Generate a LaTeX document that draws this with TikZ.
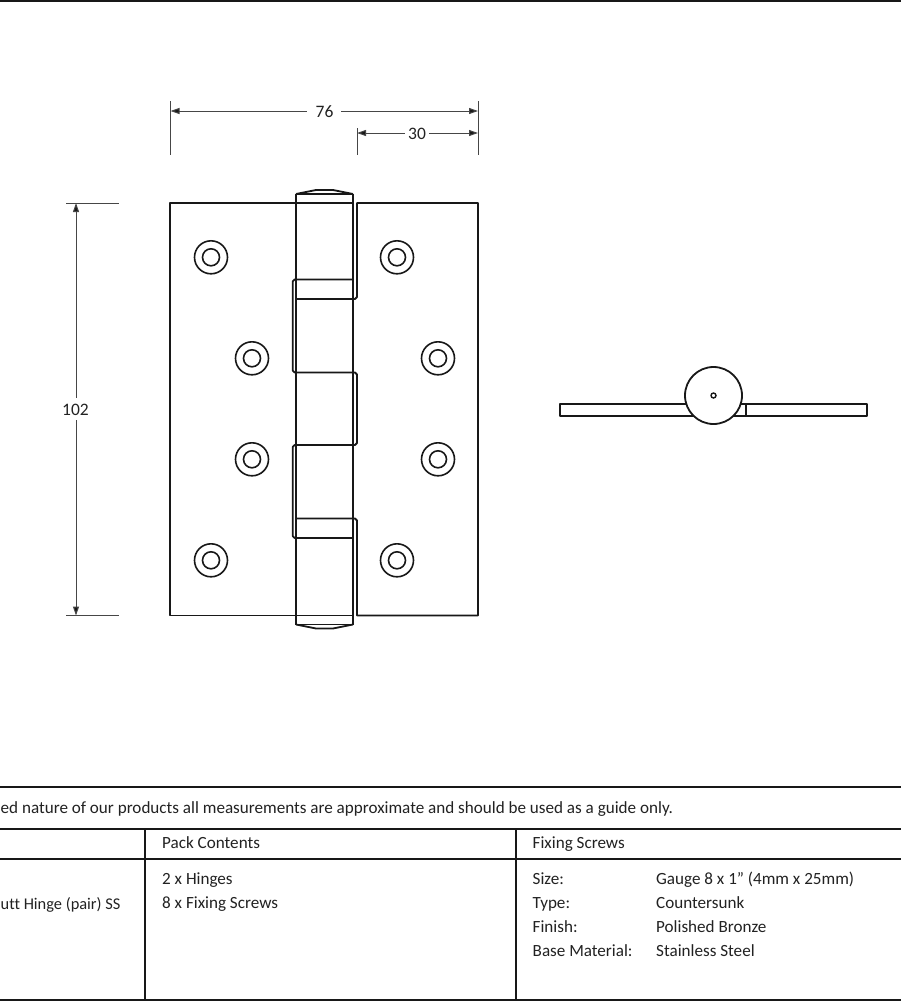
\documentclass[tikz,border=0pt]{standalone}
\usepackage{fontspec}
\setmainfont[Ligatures=NoCommon]{Carlito}
\usetikzlibrary{arrows.meta}
\definecolor{ink}{HTML}{181818}
\definecolor{txt}{HTML}{222222}
\tikzset{
  x=1pt,y=-1pt,
  part/.style={draw=ink,line width=1.8pt,line join=round},
  thinpart/.style={draw=ink,line width=1.5pt,line join=round},
  rule/.style={draw=ink,line width=2pt},
  dimline/.style={draw=ink!80,line width=1pt},
  dimarrowL/.style={dimline,{Triangle[length=9pt,width=6pt,fill=ink]}-},
  dimarrowR/.style={dimline,-{Triangle[length=9pt,width=6pt,fill=ink]}},
  lab/.style={inner sep=0pt,anchor=base west,text=txt,font=\fontsize{17.1}{19}\selectfont},
  dimlab/.style={inner sep=0pt,text=txt,font=\fontsize{17.5}{19}\selectfont},
  screwo/.style={circle,draw=ink,line width=1.6pt,minimum size=33pt,inner sep=0pt},
  screwi/.style={circle,draw=ink,line width=1.6pt,minimum size=17pt,inner sep=0pt},
}
\begin{document}
\begin{tikzpicture}
\useasboundingbox (0,0) rectangle (901,1001);
\fill[white] (0,0) rectangle (901,1001);
% frame rule
\coordinate (t0) at (0,0.5); \coordinate (t1) at (901,0.5);
\draw[rule] (t0) -- (t1);
% leaves
\draw[part] (296,203) -- (170.3,203) -- (170.3,615.5) -- (296,615.5);
\draw[part] (353,299) -- (355,299) to[out=0,in=90] (357,297) -- (357,203) -- (478,203) -- (478,615.5) -- (357,615.5) -- (357,520.5) to[out=-90,in=0] (355,518.5) -- (296,518.5);
% barrel
\draw[part] (296,194) -- (296,624.5);
\draw[part] (353,194) -- (353,624.5);
\draw[part] (296,194) -- (353,194);
\draw[part] (296,624.5) -- (353,624.5);
\draw[part] (296,194) -- (316,190) -- (333,190) -- (353,194);
\draw[part] (296,624.5) -- (316,628.5) -- (333,628.5) -- (353,624.5);
\draw[thinpart] (296,203) -- (353,203);
\draw[thinpart] (296,615.5) -- (353,615.5);
\draw[part] (296,299) -- (353,299);
% knuckles
\draw[part] (353,279.5) -- (294.5,279.5) to[out=180,in=-90] (292.7,281.5) -- (292.7,370.5) to[out=90,in=180] (294.7,372.5) -- (355,372.5) to[out=0,in=-90] (357,374.5) -- (357,443) to[out=90,in=0] (355,445) -- (294.7,445) to[out=180,in=-90] (292.7,447) -- (292.7,536) to[out=90,in=180] (294.7,538) -- (353,538);
% screws
\foreach \n/\cx/\cy in {a/211/257.3,b/252/358.3,c/252/459.3,d/211/560.3,e/397/257.3,f/438/358.3,g/438/459.3,h/397/560.3}{
  \node[screwo] (so\n) at (\cx,\cy) {};
  \node[screwi] (si\n) at (\cx,\cy) {};
}
% side view
\draw[part] (700,404) -- (559.7,404) -- (559.7,416) -- (700,416);
\draw[part] (730,404) -- (867.3,404) -- (867.3,416) -- (730,416);
\draw[part] (746,404) -- (746,416);
\node[circle,draw=ink,line width=1.8pt,minimum size=57pt,inner sep=0pt,fill=white] (barrelc) at (713.5,395.5) {};
\node[circle,draw=ink,line width=1.4pt,minimum size=5pt,inner sep=0pt] (pin) at (713.5,395.5) {};
% dimensions
\coordinate (e1a) at (170.5,101); \coordinate (e1b) at (170.5,155);
\coordinate (e2a) at (478,101); \coordinate (e2b) at (478,155);
\coordinate (e3a) at (357,128); \coordinate (e3b) at (357,155);
\draw[dimline] (e1a) -- (e1b);
\draw[dimline] (e2a) -- (e2b);
\draw[dimline] (e3a) -- (e3b);
\node[dimlab] (d76) at (324.5,112) {76};
\node[dimlab] (d30) at (417,133.5) {30};
\node[dimlab] (d102) at (75.5,409.5) {102};
\coordinate (a76l) at (170.5,111); \coordinate (a76m1) at (307,111); \coordinate (a76m2) at (341,111); \coordinate (a76r) at (478,111);
\draw[dimarrowL] (a76l) -- (a76m1);
\draw[dimarrowR] (a76m2) -- (a76r);
\coordinate (a30l) at (357,133); \coordinate (a30m1) at (405,133); \coordinate (a30m2) at (429,133); \coordinate (a30r) at (478,133);
\draw[dimarrowL] (a30l) -- (a30m1);
\draw[dimarrowR] (a30m2) -- (a30r);
\coordinate (e4a) at (66,203); \coordinate (e4b) at (119,203);
\coordinate (e5a) at (66,615.5); \coordinate (e5b) at (119,615.5);
\draw[dimline] (e4a) -- (e4b);
\draw[dimline] (e5a) -- (e5b);
\coordinate (a102t) at (76,203); \coordinate (a102m1) at (76,398); \coordinate (a102m2) at (76,420); \coordinate (a102b) at (76,615.5);
\draw[dimarrowL] (a102t) -- (a102m1);
\draw[dimarrowR] (a102m2) -- (a102b);
% table
\coordinate (r1a) at (0,786.5); \coordinate (r1b) at (901,786.5);
\coordinate (r2a) at (0,829); \coordinate (r2b) at (901,829);
\coordinate (r3a) at (0,858.5); \coordinate (r3b) at (901,858.5);
\coordinate (r4a) at (0,999.5); \coordinate (r4b) at (901,999.5);
\draw[rule] (r1a) -- (r1b);
\draw[rule] (r2a) -- (r2b);
\draw[rule] (r3a) -- (r3b);
\draw[rule] (r4a) -- (r4b);
\coordinate (v1a) at (145,829); \coordinate (v1b) at (145,999.5);
\coordinate (v2a) at (516,829); \coordinate (v2b) at (516,999.5);
\draw[rule] (v1a) -- (v1b);
\draw[rule] (v2a) -- (v2b);
\node[lab] (note) at (0.5,813) {ed nature of our products all measurements are approximate and should be used as a guide only.};
\node[lab] (pack) at (162,848) {Pack Contents};
\node[lab] (fix) at (532.5,848) {Fixing Screws};
\node[lab,font=\fontsize{16.4}{19}\selectfont] (name) at (0.5,909) {utt Hinge (pair) SS};
\node[lab] (p1) at (162,884.7) {2 x Hinges};
\node[lab] (p2) at (162,908.7) {8 x Fixing Screws};
\node[lab] (s1) at (532.5,884.7) {Size:};
\node[lab] (s2) at (532.5,908.7) {Type:};
\node[lab] (s3) at (532.5,932.7) {Finish:};
\node[lab] (s4) at (532.5,956.7) {Base Material:};
\node[lab] (v1) at (656,884.7) {Gauge 8 x 1” (4mm x 25mm)};
\node[lab] (v2) at (656,908.7) {Countersunk};
\node[lab] (v3) at (656,932.7) {Polished Bronze};
\node[lab] (v4) at (656,956.7) {Stainless Steel};
\end{tikzpicture}
\end{document}
